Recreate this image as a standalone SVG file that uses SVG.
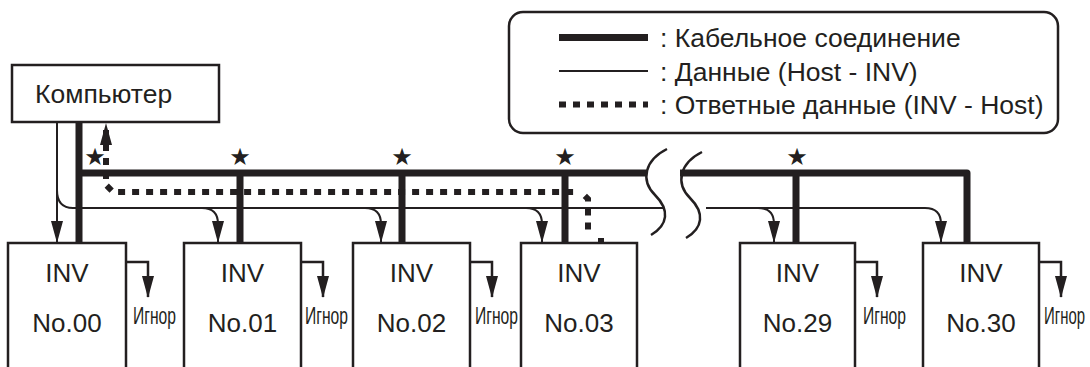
<svg xmlns="http://www.w3.org/2000/svg" width="1090" height="367" viewBox="0 0 1090 367">
<style>
.box{fill:#fff;stroke:#231f20;stroke-width:2.5}
.cable{fill:none;stroke:#231f20;stroke-width:7;stroke-linejoin:round}
.data{fill:none;stroke:#231f20;stroke-width:2}
.ign{fill:none;stroke:#231f20;stroke-width:2.5}
.resp{fill:none;stroke:#231f20;stroke-width:6;stroke-dasharray:7 7}
.brk{fill:none;stroke:#231f20;stroke-width:2.5}
text{font-family:"Liberation Sans",Arial,sans-serif;fill:#231f20}
.lbl{font-size:26px;text-anchor:middle}
.lg{font-size:26.5px}
.igt{font-size:23px}
.star{font-family:"DejaVu Sans",sans-serif;font-size:24px;text-anchor:middle}
</style>
<defs>
<marker id="ah" viewBox="0 0 22 12" refX="21" refY="6" markerWidth="22" markerHeight="12" markerUnits="userSpaceOnUse" orient="auto-start-reverse">
<path d="M0,0 L22,6 L0,12 z" fill="#231f20"/>
</marker>
</defs>
<rect width="1090" height="367" fill="#fff"/>

<g id="connectors">
<path class="cable" d="M79,122 V243 M79,173 H646 M680,173 H967 V243 M240,173 V243 M402,173 V243 M565,173 V243 M796,173 V243"/>
<path class="data" d="M57,122 V242" marker-end="url(#ah)"/>
<path class="data" d="M57,190 C57,202 62,208 73,208 H664 M706,208 H925"/>
<path class="data" d="M925,208 C936,208 941,213 941,224 V242" marker-end="url(#ah)"/>
<path class="data" d="M202,208 C213,208 218,213 218,224 V242" marker-end="url(#ah)"/>
<path class="data" d="M365,208 C376,208 381,213 381,224 V242" marker-end="url(#ah)"/>
<path class="data" d="M526,208 C537,208 542,213 542,224 V242" marker-end="url(#ah)"/>
<path class="data" d="M758,208 C769,208 774,213 774,224 V242" marker-end="url(#ah)"/>
<path class="resp" style="stroke-dashoffset:8" d="M106,124 V185 L113,192 H576" marker-start="url(#ah)"/>
<path class="resp" style="stroke-dashoffset:-4" d="M582,193 L588,199 V231"/>
<path d="M601,238 V243" stroke="#231f20" stroke-width="6"/>
<path class="brk" d="M667,149 C645,160 640,180 655,195 C670,210 668,225 651,235"/>
<path class="brk" d="M702,152 C680,163 675,183 690,198 C705,213 703,228 686,238"/>
<path class="ign" d="M126,262 H148 V297" marker-end="url(#ah)"/>
<path class="ign" d="M301,262 H323 V297" marker-end="url(#ah)"/>
<path class="ign" d="M470,262 H492 V297" marker-end="url(#ah)"/>
<path class="ign" d="M855,262 H877 V297" marker-end="url(#ah)"/>
<path class="ign" d="M1039,262 H1061 V297" marker-end="url(#ah)"/>
</g>

<g id="stars">
<text class="star" x="95" y="165">★</text>
<text class="star" x="240" y="165">★</text>
<text class="star" x="402" y="165">★</text>
<text class="star" x="565" y="165">★</text>
<text class="star" x="797" y="165">★</text>
</g>

<g id="computer">
<rect class="box" x="12" y="65" width="207" height="57"/>
<text class="lg" x="35" y="103">Компьютер</text>
</g>

<g id="inv00">
<rect class="box" x="8" y="243" width="118" height="150"/>
<text class="lbl" x="67" y="282">INV</text>
<text class="lbl" x="67" y="332">No.00</text>
<text class="igt" x="133" y="324" textLength="43" lengthAdjust="spacingAndGlyphs">Игнор</text>
</g>
<g id="inv01">
<rect class="box" x="184" y="243" width="117" height="150"/>
<text class="lbl" x="242.5" y="282">INV</text>
<text class="lbl" x="242.5" y="332">No.01</text>
<text class="igt" x="305" y="324" textLength="43" lengthAdjust="spacingAndGlyphs">Игнор</text>
</g>
<g id="inv02">
<rect class="box" x="353" y="243" width="117" height="150"/>
<text class="lbl" x="411.5" y="282">INV</text>
<text class="lbl" x="411.5" y="332">No.02</text>
<text class="igt" x="475" y="324" textLength="43" lengthAdjust="spacingAndGlyphs">Игнор</text>
</g>
<g id="inv03">
<rect class="box" x="521" y="243" width="116" height="150"/>
<text class="lbl" x="579" y="282">INV</text>
<text class="lbl" x="579" y="332">No.03</text>
</g>
<g id="inv29">
<rect class="box" x="740" y="243" width="115" height="150"/>
<text class="lbl" x="797.5" y="282">INV</text>
<text class="lbl" x="797.5" y="332">No.29</text>
<text class="igt" x="863" y="324" textLength="43" lengthAdjust="spacingAndGlyphs">Игнор</text>
</g>
<g id="inv30">
<rect class="box" x="923" y="243" width="116" height="150"/>
<text class="lbl" x="981" y="282">INV</text>
<text class="lbl" x="981" y="332">No.30</text>
<text class="igt" x="1044" y="324" textLength="41" lengthAdjust="spacingAndGlyphs">Игнор</text>
</g>

<g id="legend">
<rect x="509" y="12" width="549" height="121" rx="14" fill="#fff" stroke="#231f20" stroke-width="2.5"/>
<path class="cable" d="M559,37.5 H648"/>
<path class="data" d="M559,71 H648"/>
<path class="resp" d="M559,104.5 H648"/>
<text class="lg" x="660" y="47">: Кабельное соединение</text>
<text class="lg" x="660" y="80.5">: Данные (Host - INV)</text>
<text class="lg" x="660" y="114">: Ответные данные (INV - Host)</text>
</g>
</svg>
